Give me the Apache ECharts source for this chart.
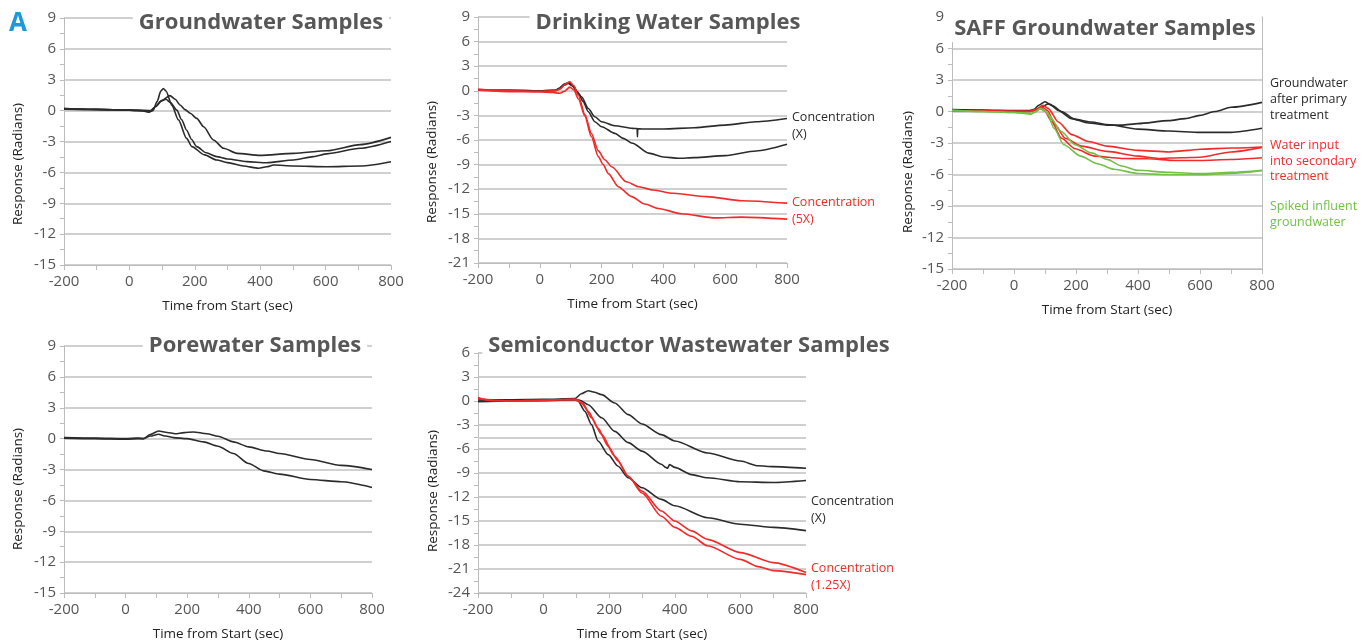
<!DOCTYPE html>
<html>
<head>
<meta charset="utf-8">
<script src="https://cdn.jsdelivr.net/npm/echarts@6/dist/echarts.min.js"></script>
<style>
html,body{margin:0;padding:0;background:#fff;}
#chart{width:1366px;height:644px;}
</style>
</head>
<body>
<div id="chart"></div>
<script>
// ---------- tick labels / axes ----------
const xTicks = [-200, 0, 200, 400, 600, 800];
const yRangeGW = [-15, 9];
const yRangeDW = [-21, 9];
const yRangeSAFF = [-15, 9];
const yRangePW = [-15, 9];
const yRangeSC = [-24, 6];
const scExtraGrid = [-4.6];

// ---------- Groundwater Samples ----------
const gwA = [[-200,0.2],[-100,0.12],[0,0.05],[40,0],[58,-0.15],[72,0],[85,0.9],[96,1.9],[104,2.15],[112,1.9],[130,0.5],[150,-0.9],[175,-2.7],[191,-3.5],[230,-4.3],[267,-4.8],[300,-5.05],[349,-5.38],[395,-5.6],[420,-5.45],[441,-5.29],[502,-5.38],[604,-5.45],[706,-5.38],[800,-4.96]];
const gwB = [[-200,0.15],[-100,0.1],[0,0.05],[50,0],[65,-0.05],[80,0.4],[100,1.0],[124,1.46],[140,1.1],[155,0.55],[170,0.1],[186,-0.26],[206,-0.75],[227,-1.56],[257,-2.85],[288,-3.66],[329,-4.15],[400,-4.35],[502,-4.15],[604,-3.9],[706,-3.3],[800,-2.6]];
const gwC = [[-200,0.2],[-100,0.12],[0,0.05],[50,0],[65,0],[80,0.4],[95,0.9],[112,1.1],[125,0.8],[145,0.05],[160,-0.9],[175,-1.9],[190,-2.8],[206,-3.5],[235,-4.1],[267,-4.47],[300,-4.7],[359,-4.96],[420,-5.06],[502,-4.8],[563,-4.47],[604,-4.2],[706,-3.66],[800,-3.0]];

// ---------- Drinking Water Samples ----------
const dwX1 = [[-200,0.1],[-100,0.05],[0,0],[50,0.05],[62,0.2],[80,0.7],[92,0.9],[105,0.6],[120,-0.1],[135,-0.73],[157,-2.15],[178,-3.16],[200,-3.77],[243,-4.26],[300,-4.58],[315,-4.6],[316,-5.6],[317,-4.62],[330,-4.66],[400,-4.66],[500,-4.5],[600,-4.18],[700,-3.77],[800,-3.37]];
const dwX2 = [[-200,0.1],[-100,0.05],[0,0],[50,0.05],[62,0.3],[80,0.85],[94,1.0],[108,0.6],[125,-0.3],[140,-1.3],[157,-2.55],[178,-3.77],[200,-4.38],[243,-5.19],[270,-5.8],[300,-6.4],[352,-7.6],[400,-8.07],[449,-8.23],[500,-8.15],[600,-7.9],[700,-7.34],[800,-6.53]];
const dw5X1 = [[-200,0.2],[-150,0.05],[-100,0],[0,-0.05],[50,0],[65,0.2],[82,0.8],[97,1.1],[110,0.6],[125,-0.6],[146,-2.9],[167,-5.2],[189,-7.3],[210,-8.4],[234,-9.3],[280,-11.1],[320,-11.7],[367,-12.1],[432,-12.5],[540,-12.9],[654,-13.4],[800,-13.7]];
const dw5X2 = [[-200,0.1],[-100,-0.1],[0,-0.15],[40,-0.2],[65,-0.3],[80,-0.05],[97,0.45],[110,0.1],[125,-1.0],[146,-3.1],[167,-5.6],[189,-8.0],[205,-9.0],[222,-10.1],[254,-11.7],[297,-12.9],[340,-13.8],[384,-14.35],[459,-15.0],[568,-15.5],[654,-15.4],[800,-15.65]];

// ---------- SAFF Groundwater Samples ----------
const sfPrim1 = [[-200,0.19],[-100,0.15],[0,0.1],[50,0.1],[65,0.2],[80,0.6],[100,0.93],[115,0.7],[143,0.1],[186,-0.68],[240,-1.09],[300,-1.3],[347,-1.3],[400,-1.15],[500,-0.87],[552,-0.68],[600,-0.37],[648,0],[700,0.4],[800,0.87]];
const sfPrim2 = [[-200,0.15],[-100,0.1],[0,0.05],[50,0.05],[70,0.15],[90,0.45],[110,0.71],[125,0.55],[153,0],[197,-0.75],[250,-1.0],[300,-1.24],[400,-1.68],[500,-1.86],[600,-1.99],[700,-1.99],[800,-1.6]];
const sfSec1 = [[-200,0.1],[-100,0.05],[0,0.02],[50,0],[70,0.2],[94,0.6],[110,0.3],[143,-1.0],[186,-2.2],[240,-2.86],[300,-3.3],[400,-3.7],[500,-3.85],[562,-3.7],[600,-3.6],[700,-3.48],[800,-3.38]];
const sfSec2 = [[-200,0.1],[-100,0.05],[0,0],[50,0],[70,0.15],[90,0.45],[108,0.1],[133,-1.3],[165,-2.55],[218,-3.3],[300,-3.8],[400,-4.25],[466,-4.47],[540,-4.4],[600,-4.35],[700,-3.85],[800,-3.42]];
const sfSec3 = [[-200,0.1],[-100,0.05],[0,0],[50,0],[70,0.1],[88,0.35],[100,0.0],[122,-1.0],[153,-2.55],[197,-3.55],[261,-4.25],[347,-4.47],[433,-4.5],[519,-4.66],[600,-4.66],[700,-4.57],[800,-4.41]];
const sfSpk1 = [[-200,0.12],[-100,0.0],[0,-0.1],[41,-0.2],[55,-0.25],[70,-0.05],[84,0.25],[95,0.1],[107,-0.06],[129,-1.6],[161,-3.17],[215,-4.25],[269,-4.97],[323,-5.5],[400,-5.9],[500,-6.02],[600,-6.02],[700,-5.9],[800,-5.65]];
const sfSpk2 = [[-200,0.1],[-100,0.0],[0,-0.1],[41,-0.15],[55,-0.2],[70,0],[86,0.3],[98,0.1],[112,-0.37],[153,-1.9],[197,-3.17],[250,-3.94],[300,-4.56],[347,-5.19],[400,-5.6],[500,-5.8],[600,-5.9],[700,-5.8],[800,-5.6]];

// ---------- Porewater Samples ----------
const pwU = [[-200,0.1],[-100,0.05],[0,0],[40,0.05],[58,0],[80,0.4],[107,0.74],[135,0.6],[161,0.48],[190,0.58],[220,0.65],[264,0.48],[300,0.23],[350,-0.32],[400,-0.8],[459,-1.2],[500,-1.45],[600,-2.03],[700,-2.6],[800,-3.0]];
const pwL = [[-200,0.05],[-100,0],[0,-0.05],[40,0],[58,0],[80,0.25],[107,0.42],[130,0.25],[155,0.1],[200,0.0],[253,-0.32],[300,-0.74],[350,-1.45],[400,-2.42],[448,-3.13],[500,-3.45],[600,-3.97],[700,-4.19],[800,-4.74]];

// ---------- Semiconductor Wastewater Samples ----------
const scX1 = [[-200,0.17],[-100,0.15],[0,0.2],[95,0.3],[115,0.9],[136,1.29],[155,1.1],[177,0.8],[217,-0.25],[258,-1.7],[300,-2.87],[359,-4.2],[400,-5.0],[500,-6.5],[600,-7.5],[654,-8.1],[700,-8.2],[800,-8.4]];
const scX2 = [[-200,0],[-100,0.05],[0,0.1],[95,0.2],[110,0.1],[136,-0.46],[177,-2.1],[217,-3.8],[258,-5.2],[300,-6.27],[359,-7.9],[372,-8.3],[378,-8.4],[384,-7.95],[400,-8.3],[451,-9.2],[500,-9.6],[600,-10.1],[700,-10.18],[800,-9.93]];
const scX3 = [[-200,-0.1],[-100,0],[0,0.05],[95,0.15],[105,0.0],[126,-1.3],[146,-2.95],[166,-5.0],[197,-6.7],[227,-8.15],[258,-9.6],[300,-10.85],[359,-12.3],[400,-13.1],[500,-14.6],[600,-15.4],[700,-15.8],[800,-16.2]];
const sc125X1 = [[-200,0.45],[-158,0.05],[-100,0],[0,0.1],[95,0.2],[115,-0.25],[136,-1.3],[166,-3.4],[197,-5.65],[227,-7.5],[258,-9.4],[300,-11.26],[359,-13.75],[400,-15.0],[451,-16.24],[500,-17.3],[600,-18.95],[700,-20.2],[800,-21.44]];
const sc125X2 = [[-200,0.3],[-150,0.1],[-100,0],[0,0.1],[100,0.2],[120,-0.3],[146,-2.1],[177,-4.2],[217,-6.9],[258,-9.4],[300,-11.5],[359,-14.4],[400,-15.8],[451,-16.9],[500,-18.1],[600,-19.8],[654,-20.7],[700,-21.2],[800,-21.7]];

// ---------- text ----------
const titles = ['Groundwater Samples','Drinking Water Samples','SAFF Groundwater Samples','Porewater Samples','Semiconductor Wastewater Samples'];
const xName = 'Time from Start (sec)';
const yName = 'Response (Radians)';

// ---------- styling ----------
const BLACK = '#2b2b2b', RED = '#f22a2a', GREEN = '#72c046';
const GRIDC = '#d0d0d0', AXISC = '#bcbcbc';
const FONT = '"Open Sans", "DejaVu Sans", sans-serif';

const panels = [
  {grid:{left:64, top:18, width:327, height:247}, y:yRangeGW, lines:[[gwA,BLACK],[gwB,BLACK],[gwC,BLACK]],
   title:{x:261, y:23}, yn:{x:18, y:164}},
  {grid:{left:478, top:17, width:309, height:246}, y:yRangeDW, lines:[[dwX1,BLACK],[dwX2,BLACK],[dw5X1,RED],[dw5X2,RED]],
   title:{x:668, y:23}, yn:{x:432, y:162}},
  {grid:{left:952, top:17, width:310, height:252}, y:yRangeSAFF, lines:[[sfPrim1,BLACK],[sfPrim2,BLACK],[sfSec1,RED],[sfSec2,RED],[sfSec3,RED],[sfSpk1,GREEN],[sfSpk2,GREEN]],
   title:{x:1105, y:29}, yn:{x:908, y:172}, rightLine:true},
  {grid:{left:64, top:346, width:308, height:247}, y:yRangePW, lines:[[pwU,BLACK],[pwL,BLACK]],
   title:{x:255, y:346}, yn:{x:18, y:489}},
  {grid:{left:478, top:353, width:328, height:240}, y:yRangeSC, lines:[[scX1,BLACK],[scX2,BLACK],[scX3,BLACK],[sc125X1,RED],[sc125X2,RED]],
   title:{x:689, y:346}, yn:{x:433, y:491}, extra:scExtraGrid}
];

const grid = [], xAxis = [], yAxis = [], series = [], graphic = [], extraY = [];
panels.forEach((p, i) => {
  grid.push(Object.assign({containLabel:false}, p.grid));
  xAxis.push({
    type:'value', gridIndex:i, min:xTicks[0], max:xTicks[xTicks.length-1], interval:200,
    axisLine:{show:true, onZero:false, lineStyle:{color:AXISC, width:1}},
    axisTick:{show:true, length:5, lineStyle:{color:AXISC}},
    minorTick:{show:true, splitNumber:2, length:5, lineStyle:{color:AXISC}},
    splitLine:{show:false},
    axisLabel:{color:'#555', fontSize:15, fontFamily:FONT, margin:9},
    name:xName, nameLocation:'middle', nameGap:34,
    nameTextStyle:{color:'#222', fontSize:13.5, fontFamily:FONT}
  });
  yAxis.push({
    type:'value', gridIndex:i, min:p.y[0], max:p.y[1], interval:3,
    axisLine:{show:true, onZero:false, lineStyle:{color:AXISC, width:1}},
    axisTick:{show:true, length:4, lineStyle:{color:AXISC}},
    minorTick:{show:true, splitNumber:2, length:4, lineStyle:{color:AXISC}},
    splitLine:{show:true, lineStyle:{color:GRIDC, width:2, type:'solid'}},
    axisLabel:{color:'#555', fontSize:15, fontFamily:FONT, margin:8}
  });
  p.lines.forEach((l, k) => {
    const s = {
      type:'line', xAxisIndex:i, yAxisIndex:i, data:l[0], showSymbol:false, symbol:'none',
      smooth:0.25, smoothMonotone:'x',
      lineStyle:{color:l[1], width:1.6}, itemStyle:{color:l[1]}, silent:true, animation:false, z:10
    };
    if (p.extra && k === 0) {
      s.markLine = {silent:true, symbol:'none', label:{show:false}, animation:false, z:1,
        lineStyle:{color:GRIDC, type:'solid', width:2}, data:p.extra.map(v => ({yAxis:v}))};
    }
    series.push(s);
  });
  if (p.rightLine) {
    extraY.push({type:'value', gridIndex:i, position:'right', min:p.y[0], max:p.y[1], interval:3,
      axisLine:{show:true, onZero:false, lineStyle:{color:AXISC}}, axisTick:{show:false}, axisLabel:{show:false}, splitLine:{show:false}});
  }
  graphic.push({type:'text', x:p.title.x, y:p.title.y, z:100,
    style:{text:titles[i], fill:'#575757', font:'bold 22px ' + FONT, textAlign:'center', textVerticalAlign:'middle',
      backgroundColor:'#fff', padding:[2,6,2,6]}});
  graphic.push({type:'text', x:p.yn.x, y:p.yn.y, rotation:Math.PI/2, z:100,
    style:{text:yName, fill:'#222', font:'13.5px ' + FONT, textAlign:'center', textVerticalAlign:'middle'}});
});
extraY.forEach(a => yAxis.push(a));

// annotations
const notes = [
  {x:792, y:117, t:'Concentration', c:BLACK}, {x:792, y:134, t:'(X)', c:BLACK},
  {x:792, y:202, t:'Concentration', c:RED}, {x:792, y:219, t:'(5X)', c:RED},
  {x:1270, y:83, t:'Groundwater', c:BLACK}, {x:1270, y:99, t:'after primary', c:BLACK}, {x:1270, y:115, t:'treatment', c:BLACK},
  {x:1270, y:145, t:'Water input', c:RED}, {x:1270, y:161, t:'into secondary', c:RED}, {x:1270, y:176, t:'treatment', c:RED},
  {x:1270, y:206, t:'Spiked influent', c:GREEN}, {x:1270, y:222, t:'groundwater', c:GREEN},
  {x:811, y:501, t:'Concentration', c:BLACK}, {x:811, y:518, t:'(X)', c:BLACK},
  {x:811, y:568, t:'Concentration', c:RED}, {x:811, y:585, t:'(1.25X)', c:RED}
];
notes.forEach(n => graphic.push({type:'text', x:n.x, y:n.y, z:100,
  style:{text:n.t, fill:n.c, font:'12.5px ' + FONT, textAlign:'left', textVerticalAlign:'middle'}}));
graphic.push({type:'text', x:9, y:24, z:100, style:{text:'A', fill:'#1a9ad8', font:'bold 26px ' + FONT, textAlign:'left', textVerticalAlign:'middle'}});

const chart = echarts.init(document.getElementById('chart'), null, {renderer:'canvas'});
chart.setOption({animation:false, backgroundColor:'#fff', grid, xAxis, yAxis, series, graphic});
</script>
</body>
</html>
